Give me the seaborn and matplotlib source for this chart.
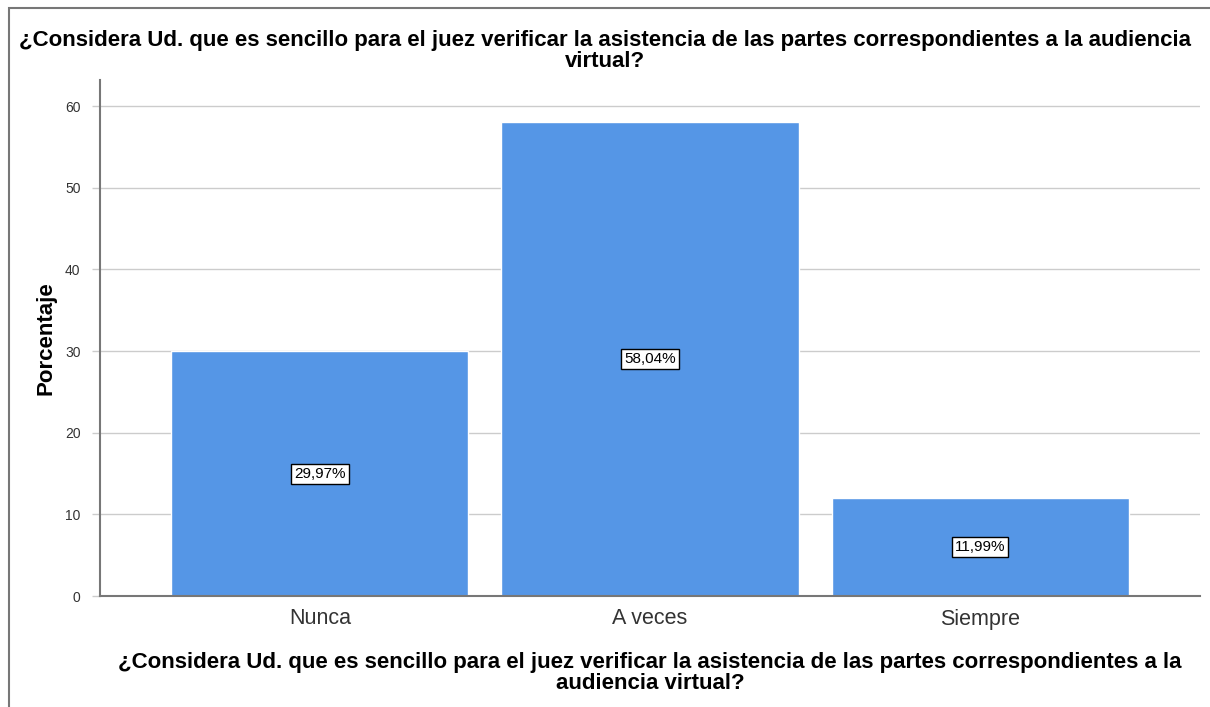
import pandas as pd
import matplotlib
matplotlib.use("Agg")
import matplotlib.pyplot as plt
import seaborn as sns
from matplotlib.patches import Rectangle

# datos
categorias = ["Nunca", "A veces", "Siempre"]
porcentajes = [29.97, 58.04, 11.99]
ticks_y = [0, 10, 20, 30, 40, 50, 60]

pregunta = ("¿Considera Ud. que es sencillo para el juez verificar la asistencia de las partes "
            "correspondientes a la audiencia\nvirtual?")
pregunta_x = ("¿Considera Ud. que es sencillo para el juez verificar la asistencia de las partes "
              "correspondientes a la\naudiencia virtual?")

sns.set_theme(style="white")
plt.rcParams['font.family'] = ['Liberation Sans', 'DejaVu Sans']

df = pd.DataFrame({"categoria": categorias, "porcentaje": porcentajes})

fig = plt.figure(figsize=(12.1, 7.07), dpi=100)
ax = fig.add_axes([100 / 1210, 1 - 596 / 707, 1100 / 1210, 516 / 707])

sns.barplot(data=df, x="categoria", y="porcentaje", color="#5596E6", saturation=1,
            width=0.9, ax=ax, zorder=2)

ax.set_ylim(0, 63.2)
ax.set_xlim(-0.666, 2.666)
ax.set_yticks(ticks_y)
ax.yaxis.grid(True, color="#cccccc", linewidth=1.0, zorder=0)
ax.set_axisbelow(True)

etiquetas = [f"{v:.2f}".replace(".", ",") + "%" for v in porcentajes]
ax.bar_label(ax.containers[0], labels=etiquetas, label_type="center", fontsize=11, color="black",
             bbox=dict(boxstyle="square,pad=0.2", facecolor="white", edgecolor="black", linewidth=1))

ax.set_xlabel(pregunta_x, fontsize=16, fontweight="bold", labelpad=16, linespacing=1.0,
              color="black")
ax.set_ylabel("Porcentaje", fontsize=16, fontweight="bold", labelpad=6, color="black")
ax.tick_params(axis="x", labelsize=15.5, colors="#333333", length=0, pad=9)
ax.tick_params(axis="y", labelsize=10, colors="#333333", length=6, left=True, width=1,
               color="#cccccc", pad=8)
for s in ["top", "right"]:
    ax.spines[s].set_visible(False)
for s in ["left", "bottom"]:
    ax.spines[s].set_color("#777777")
    ax.spines[s].set_linewidth(1.5)

fig.text(0.5, 1 - 51 / 707, pregunta, ha="center", va="center", fontsize=16,
         fontweight="bold", linespacing=1.0, color="black")

# marco exterior
fig.patches.append(Rectangle((9 / 1210, -0.05), 1.1, 1 - 8 / 707 + 0.05, transform=fig.transFigure,
                             fill=False, edgecolor="#777777", linewidth=1.5))

fig.savefig("out.png", dpi=100)
